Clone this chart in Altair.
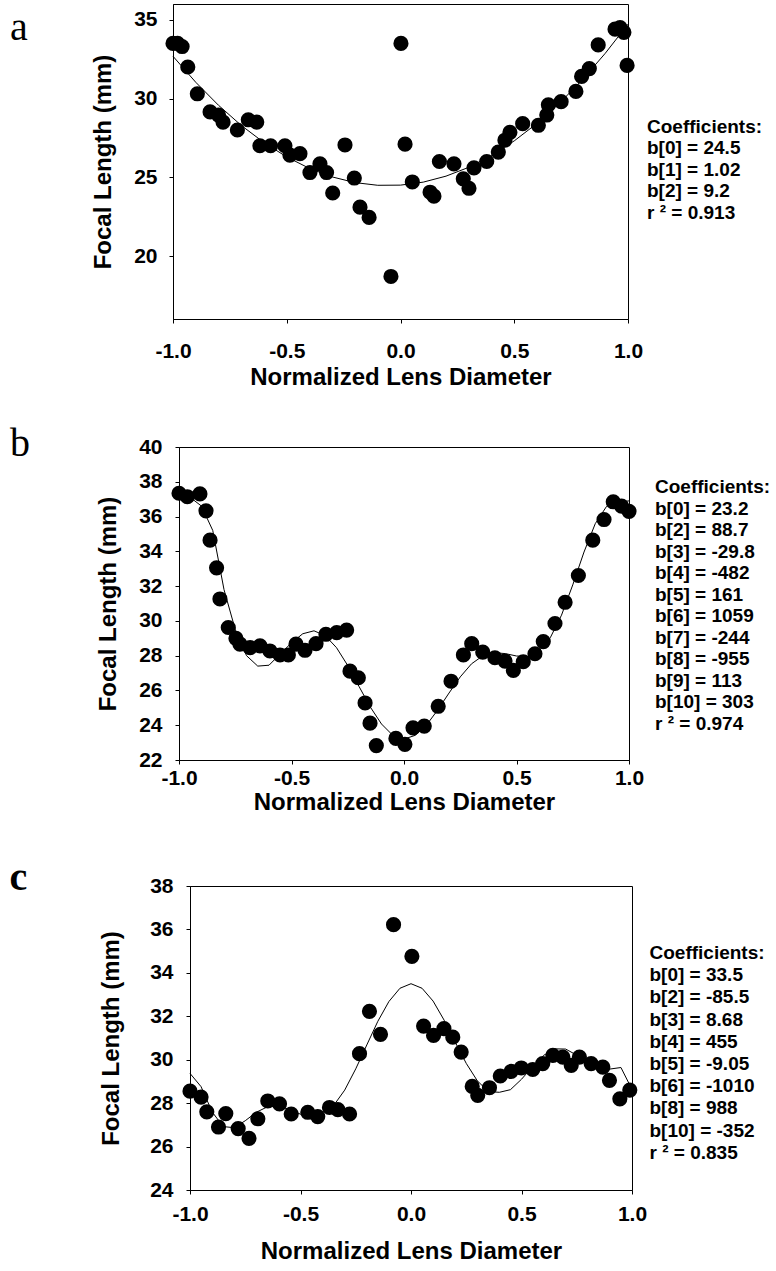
import altair as alt
import pandas as pd

# ---------------- data ----------------
a_x = [-1.0, -0.98, -0.96, -0.935, -0.893, -0.837, -0.80, -0.78, -0.717, -0.669, -0.632, -0.618, -0.571, -0.508,
       -0.486, -0.442, -0.398, -0.354, -0.325, -0.298, -0.244, -0.203, -0.178, -0.138, -0.042, 0.002, 0.02, 0.052,
       0.13, 0.147, 0.171, 0.235, 0.276, 0.301, 0.323, 0.379, 0.43, 0.459, 0.481, 0.537, 0.606, 0.643, 0.65, 0.706,
       0.771, 0.796, 0.83, 0.869, 0.943, 0.965, 0.982, 0.996]
a_y = [33.5, 33.5, 33.3, 32.0, 30.3, 29.15, 28.95, 28.5, 28.0, 28.65, 28.5, 27.0, 27.0, 27.0, 26.4, 26.5, 25.3,
       25.85, 25.3, 24.0, 27.05, 24.95, 23.1, 22.45, 18.7, 33.5, 27.1, 24.7, 24.05, 23.8, 26.0, 25.85, 24.9, 24.3,
       25.6, 26.0, 26.6, 27.35, 27.85, 28.4, 28.3, 28.95, 29.6, 29.8, 30.45, 31.4, 31.9, 33.4, 34.4, 34.5, 34.2, 32.1]
a_fit_x = [-1.0, -0.9, -0.8, -0.7, -0.6, -0.5, -0.4, -0.3, -0.2, -0.1, 0.0, 0.1, 0.2, 0.3, 0.4, 0.5, 0.6, 0.7, 0.8,
           0.9, 1.0]
a_fit_y = [32.68, 31.03, 29.57, 28.29, 27.20, 26.29, 25.56, 25.02, 24.66, 24.49, 24.5, 24.69, 25.07, 25.63, 26.38,
           27.31, 28.42, 29.72, 31.20, 32.87, 34.72]
a_coef = ["Coefficients:", "b[0] = 24.5", "b[1] = 1.02", "b[2] = 9.2", "r ² = 0.913"]
a_yticks = [20, 25, 30, 35]

b_x = [-1.0, -0.963, -0.907, -0.88, -0.862, -0.833, -0.818, -0.781, -0.747, -0.729, -0.684, -0.64, -0.596, -0.551,
       -0.514, -0.48, -0.44, -0.391, -0.347, -0.299, -0.255, -0.24, -0.203, -0.173, -0.151, -0.123, -0.036, 0.004,
       0.04, 0.09, 0.152, 0.209, 0.264, 0.301, 0.35, 0.404, 0.449, 0.486, 0.53, 0.582, 0.619, 0.671, 0.716, 0.775,
       0.839, 0.889, 0.93, 0.967, 1.0]
b_y = [37.34, 37.14, 37.3, 36.33, 34.64, 33.05, 31.26, 29.62, 29.0, 28.66, 28.46, 28.56, 28.27, 28.04, 28.04,
       28.66, 28.31, 28.69, 29.23, 29.33, 29.47, 27.11, 26.73, 25.28, 24.12, 22.83, 23.24, 22.9, 23.85, 23.95,
       25.09, 26.53, 28.04, 28.69, 28.2, 27.88, 27.69, 27.15, 27.65, 28.11, 28.81, 29.85, 31.07, 32.61, 34.64,
       35.83, 36.85, 36.6, 36.3]
b_fit_x = [-1.0, -0.95, -0.9, -0.85, -0.8, -0.75, -0.7, -0.65, -0.6, -0.55, -0.5, -0.45, -0.4, -0.35, -0.3, -0.25,
           -0.2, -0.15, -0.1, -0.05, 0.0, 0.05, 0.1, 0.15, 0.2, 0.25, 0.3, 0.35, 0.4, 0.45, 0.5, 0.55, 0.6, 0.65,
           0.7, 0.75, 0.8, 0.85, 0.9, 0.95, 1.0]
b_fit_y = [37.3, 37.1, 36.6, 35.2, 31.8, 29.5, 28.0, 27.4, 27.45, 28.1, 28.74, 29.26, 29.43, 29.15, 28.46, 27.43,
           26.23, 25.05, 24.07, 23.42, 23.2, 23.42, 24.01, 24.88, 25.85, 26.78, 27.53, 27.99, 28.17, 28.12, 27.98,
           27.96, 28.26, 29.03, 30.33, 32.07, 33.96, 35.59, 36.58, 36.83, 36.9]
b_coef = ["Coefficients:", "b[0] = 23.2", "b[2] = 88.7", "b[3] = -29.8", "b[4] = -482", "b[5] = 161",
          "b[6] = 1059", "b[7] = -244", "b[8] = -955", "b[9] = 113", "b[10] = 303", "r ² = 0.974"]
b_yticks = [22, 24, 26, 28, 30, 32, 34, 36, 38, 40]

c_x = [-1.0, -0.95, -0.924, -0.871, -0.838, -0.782, -0.733, -0.693, -0.648, -0.595, -0.542, -0.467, -0.422, -0.369,
       -0.331, -0.278, -0.233, -0.188, -0.138, -0.079, 0.004, 0.057, 0.102, 0.149, 0.189, 0.227, 0.277, 0.302, 0.355,
       0.404, 0.453, 0.499, 0.551, 0.596, 0.642, 0.687, 0.725, 0.762, 0.815, 0.868, 0.898, 0.945, 0.99]
c_y = [28.55, 28.28, 27.6, 26.9, 27.52, 26.83, 26.38, 27.28, 28.1, 27.97, 27.5, 27.58, 27.38, 27.8, 27.7, 27.5,
       30.28, 32.23, 31.17, 36.22, 34.76, 31.55, 31.12, 31.43, 31.04, 30.35, 28.77, 28.36, 28.71, 29.25, 29.46,
       29.62, 29.55, 29.82, 30.2, 30.12, 29.74, 30.12, 29.82, 29.66, 29.05, 28.2, 28.6]
c_fit_x = b_fit_x
c_fit_y = [29.37, 28.76, 27.60, 26.92, 26.87, 27.19, 27.58, 27.83, 27.86, 27.71, 27.49, 27.38, 27.58, 27.89, 28.60,
           29.58, 30.68, 31.77, 32.68, 33.29, 33.5, 33.29, 32.70, 31.82, 30.81, 29.83, 29.03, 28.53, 28.50, 28.62,
           29.10, 29.68, 30.20, 30.50, 30.49, 30.21, 29.82, 29.55, 29.57, 29.64, 28.63]
c_coef = ["Coefficients:", "b[0] = 33.5", "b[2] = -85.5", "b[3] = 8.68", "b[4] = 455", "b[5] = -9.05",
          "b[6] = -1010", "b[8] = 988", "b[10] = -352", "r ² = 0.835"]
c_yticks = [24, 26, 28, 30, 32, 34, 36, 38]

x_ticks = [-1, -0.5, 0, 0.5, 1]

SANS = "Liberation Sans"
SERIF = "Liberation Serif"
XLABEL = "datum.value < 0 ? '-' + format(-datum.value, '.1f') : format(datum.value, '.1f')"


def panel(px, py, fx, fy, coef, letter, letter_pos, letter_weight, coef_pos, coef_lh,
          ydom, yvals, w, h, xlp, xtp, ylp, ytp, extra_bottom=None):
    pts = pd.DataFrame({"x": px, "y": py})
    fit = pd.DataFrame({"x": fx, "y": fy})
    xenc = alt.X("x:Q", scale=alt.Scale(domain=[-1, 1], nice=False, zero=False),
                 axis=alt.Axis(values=x_ticks, labelExpr=XLABEL, labelFlush=False,
                               labelOverlap=False,
                               title="Normalized Lens Diameter", labelPadding=xlp, titlePadding=xtp))
    yenc = alt.Y("y:Q", scale=alt.Scale(domain=ydom, nice=False, zero=False),
                 axis=alt.Axis(values=yvals, format="d", title="Focal Length (mm)", labelOverlap=False,
                               labelFlush=False, labelBound=False, tickCount=len(yvals),
                               labelPadding=ylp, titlePadding=ytp))
    line = alt.Chart(fit).mark_line(color="black", strokeWidth=1).encode(x=xenc, y=yenc)
    dots = alt.Chart(pts).mark_circle(size=230, color="black", opacity=1).encode(x=xenc, y=yenc)
    lab = alt.Chart(pd.DataFrame({"t": [letter]})).mark_text(
        font=SERIF, fontSize=40, fontWeight=letter_weight, align="left", baseline="alphabetic", color="black"
    ).encode(x=alt.value(letter_pos[0]), y=alt.value(letter_pos[1]), text="t:N")
    co = alt.Chart(pd.DataFrame({"t": ["\n".join(coef)]})).mark_text(
        font=SANS, fontSize=19, fontWeight="bold", align="left", baseline="alphabetic",
        lineBreak="\n", lineHeight=coef_lh, color="black"
    ).encode(x=alt.value(coef_pos[0]), y=alt.value(coef_pos[1]), text="t:N")
    layers = [line, dots, lab, co]
    if extra_bottom is not None:
        pad = alt.Chart(pd.DataFrame({"v": [0]})).mark_rule(opacity=0).encode(
            x=alt.value(200), x2=alt.value(201), y=alt.value(extra_bottom), y2=alt.value(extra_bottom + 1))
        layers.append(pad)
    return alt.layer(*layers).properties(width=w, height=h)


def spacer():
    return alt.Chart(pd.DataFrame({"v": [0]})).mark_point(opacity=0).encode(
        x=alt.value(0), y=alt.value(0)
    ).properties(width=1, height=1, view=alt.ViewBackground(stroke="transparent"))


pa = panel(a_x, a_y, a_fit_x, a_fit_y, a_coef, "a", (-163, 36), "normal", (474, 128.5), 21.5,
           [16, 36], a_yticks, 455, 315, 17, 4, 12, 18)
pb = panel(b_x, b_y, b_fit_x, b_fit_y, b_coef, "b", (-169, 9), "normal", (476, 46), 21.5,
           [22, 40], b_yticks, 450, 313, 3, 2, 13, 18, extra_bottom=375)
pc = panel(c_x, c_y, c_fit_x, c_fit_y, c_coef, "c", (-180.5, 4), "bold", (459.5, 73), 22.2,
           [24, 38], c_yticks, 442, 304, 9, 15, 13, 26)

rows = [alt.hconcat(spacer(), p, spacing=0) for p in (pa, pb, pc)]

chart = alt.vconcat(*rows, spacing=33).properties(
    padding={"left": 1, "top": 0, "right": 0, "bottom": 0}
).configure_view(stroke="black", strokeWidth=1).configure_axis(
    grid=False, domainColor="black", tickColor="black", tickSize=4, labelOverlap=False,
    labelFont=SANS, labelFontSize=21, labelFontWeight="bold", labelColor="black",
    titleFont=SANS, titleFontSize=24, titleFontWeight="bold", titleColor="black"
)

chart.save("out.html", embed_options={"renderer": "svg", "actions": False})
